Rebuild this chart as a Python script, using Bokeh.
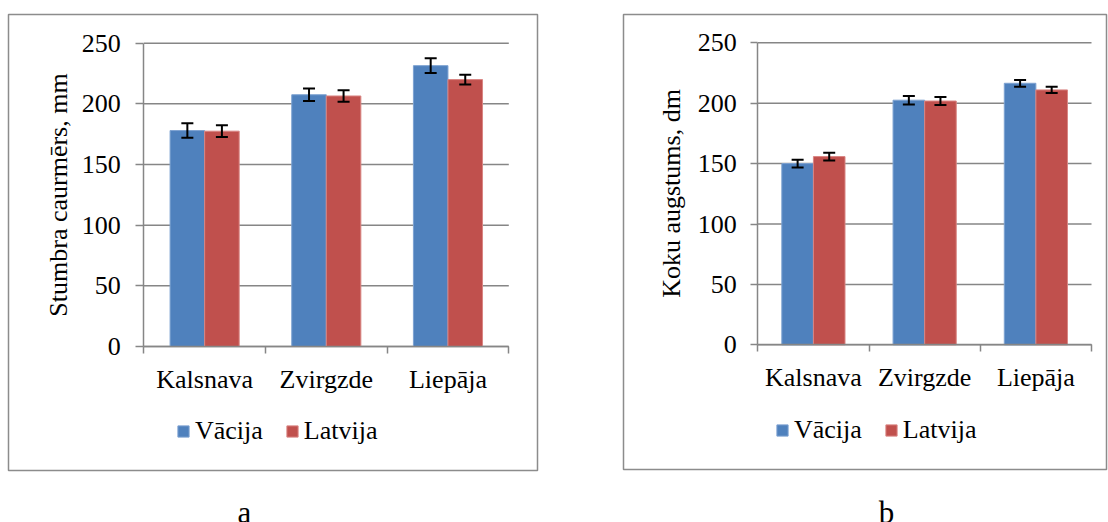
from bokeh.plotting import figure
from bokeh.models import (ColumnDataSource, Range1d, FixedTicker, Whisker, TeeHead,
                          Legend, LegendItem, Label, Spacer)
from bokeh.layouts import row, column
from bokeh.embed import file_html
from bokeh.resources import INLINE

# ---------------- data ----------------
categories = ["Kalsnava", "Zvirgzde", "Liepāja"]
series_names = ["Vācija", "Latvija"]
series_colors = ["#4F81BD", "#C0504D"]
series_edges = ["#7DA2D1", "#D98583"]

a_vacija = [178.0, 207.5, 231.5]
a_vacija_err = [6.0, 5.2, 6.0]
a_latvija = [177.5, 206.5, 220.0]
a_latvija_err = [4.8, 4.8, 4.0]

b_vacija = [150.0, 202.5, 216.5]
b_vacija_err = [3.2, 3.5, 2.8]
b_latvija = [155.8, 201.8, 211.0]
b_latvija_err = [3.2, 3.3, 2.6]

y_ticks = [0, 50, 100, 150, 200, 250]
a_ylabel = "Stumbra caurmērs, mm"
b_ylabel = "Koku augstums, dm"
captions = ["a", "b"]

FONT = "Liberation Serif"
GRAY = "#868686"
BOX = "#8C8C8C"
PAD = 2  # canvas border around the chart box (frame)


def make_chart(vals, errs, ylabel, geo):
    """geo: box = frame pixel rect (left, right, top, bottom) in page px,
    plot = pixel rect of the data area (x0, x_end, y_top, y_zero)."""
    n = len(categories)
    bl, br, bt, bb = geo["box"]
    px0, px1, py_top, py0 = geo["plot"]
    xs_per_px = n / (px1 - px0)
    ys_per_px = (y_ticks[-1] - y_ticks[0]) / (py0 - py_top)
    x_range = Range1d(-(px0 - bl) * xs_per_px, n + (br - px1) * xs_per_px)
    y_range = Range1d(-(bb - py0) * ys_per_px, y_ticks[-1] + (py_top - bt) * ys_per_px)

    p = figure(output_backend="svg", toolbar_location=None,
               width=int(br - bl) + 2 * PAD, height=int(bb - bt) + 2 * PAD,
               min_border=PAD, x_range=x_range, y_range=y_range)
    p.outline_line_color = BOX
    p.outline_line_width = 1.5
    p.background_fill_color = "white"
    p.border_fill_color = "white"
    p.xgrid.visible = False
    p.ygrid.visible = False

    # horizontal gridlines over the data area
    p.segment(x0=[0] * len(y_ticks), x1=[n] * len(y_ticks), y0=y_ticks, y1=y_ticks,
              line_color=GRAY, line_width=1.5, level="underlay")

    width = 0.284
    offsets = [-width / 2, width / 2]
    items = []
    for k, name in enumerate(series_names):
        xs = [i + 0.5 + offsets[k] for i in range(n)]
        src = ColumnDataSource(dict(x=xs, top=vals[k],
                                    upper=[v + e for v, e in zip(vals[k], errs[k])],
                                    lower=[v - e for v, e in zip(vals[k], errs[k])]))
        r = p.vbar(x="x", top="top", bottom=0, width=width, source=src,
                   fill_color=series_colors[k], line_color=series_edges[k], line_width=1)
        items.append(LegendItem(label=name, renderers=[r]))
        w = Whisker(source=src, base="x", upper="upper", lower="lower",
                    line_color="black", line_width=2, level="annotation",
                    upper_head=TeeHead(size=12, line_width=2, line_color="black"),
                    lower_head=TeeHead(size=12, line_width=2, line_color="black"))
        p.add_layout(w)

    xa = p.xaxis[0]
    xa.fixed_location = 0
    xa.bounds = (0, n)
    xa.ticker = FixedTicker(ticks=[i + 0.5 for i in range(n)], minor_ticks=list(range(n + 1)))
    xa.major_label_overrides = {i + 0.5: c for i, c in enumerate(categories)}
    xa.major_tick_line_color = None
    xa.major_tick_out = 0
    xa.major_tick_in = 0
    xa.minor_tick_out = 7
    xa.minor_tick_in = 0
    xa.minor_tick_line_color = GRAY
    xa.minor_tick_line_width = 1.5
    xa.axis_line_color = GRAY
    xa.axis_line_width = 1.5
    xa.major_label_standoff = geo["xstand"]
    xa.major_label_text_font = FONT
    xa.major_label_text_font_size = "26px"
    xa.major_label_text_color = "black"

    ya = p.yaxis[0]
    ya.fixed_location = 0
    ya.bounds = (y_ticks[0], y_ticks[-1])
    ya.ticker = FixedTicker(ticks=y_ticks, minor_ticks=[])
    ya.axis_line_color = GRAY
    ya.axis_line_width = 1.5
    ya.major_tick_line_color = GRAY
    ya.major_tick_line_width = 1.5
    ya.major_tick_out = geo["tick"]
    ya.major_tick_in = 0
    ya.minor_tick_line_color = None
    ya.major_label_standoff = geo["ystand"]
    ya.major_label_text_font = FONT
    ya.major_label_text_font_size = "26px"
    ya.major_label_text_color = "black"
    ya.axis_label = ylabel
    ya.axis_label_text_font = FONT
    ya.axis_label_text_font_size = "26px"
    ya.axis_label_text_font_style = "normal"
    ya.axis_label_text_color = "black"
    ya.axis_label_standoff = geo["lstand"]

    legend = Legend(items=items, orientation="horizontal", location=geo["legloc"],
                    glyph_width=14, glyph_height=14, label_standoff=5, spacing=22,
                    padding=0, margin=0, border_line_color=None, background_fill_alpha=0,
                    label_text_font=FONT, label_text_font_size="26px",
                    label_text_color="black", label_height=14)
    p.add_layout(legend)
    return p


def make_caption(text, w, h, xc):
    c = figure(output_backend="svg", toolbar_location=None, width=w, height=h,
               min_border=0, x_axis_location=None, y_axis_location=None,
               x_range=Range1d(0, w), y_range=Range1d(0, h))
    c.outline_line_color = None
    c.grid.visible = False
    c.add_layout(Label(x=xc, y=10, text=text, text_font=FONT, text_font_size="31px",
                       text_align="center", text_baseline="alphabetic", text_color="black"))
    return c


geo_a = dict(box=(8, 537, 14, 470), plot=(143.3, 508.3, 42.7, 346.0),
             xstand=11, tick=8, ystand=15, lstand=6, legloc=(168, 24))
geo_b = dict(box=(623, 1106, 14, 469), plot=(757.3, 1091.0, 42.3, 344.3),
             xstand=11, tick=7, ystand=14, lstand=9, legloc=(152, 24))

pa = make_chart([a_vacija, a_latvija], [a_vacija_err, a_latvija_err], a_ylabel, geo_a)
pb = make_chart([b_vacija, b_latvija], [b_vacija_err, b_latvija_err], b_ylabel, geo_b)

wa, ha = 537 - 8 + 2 * PAD, 470 - 14 + 2 * PAD
wb, hb = 1106 - 623 + 2 * PAD, 469 - 14 + 2 * PAD
top_gap = 14 - PAD
ca = make_caption(captions[0], wa, 522 - top_gap - ha, 243.7 - (8 - PAD))
cb = make_caption(captions[1], wb, 522 - top_gap - hb, 886.3 - (623 - PAD))

col_a = column(Spacer(height=top_gap), pa, ca, spacing=0)
col_b = column(Spacer(height=top_gap), pb, cb, spacing=0)
layout = row(Spacer(width=8 - PAD), col_a, Spacer(width=(623 - PAD) - (8 - PAD + wa)), col_b, spacing=0)
open("out.html", "w").write(file_html(layout, INLINE))
